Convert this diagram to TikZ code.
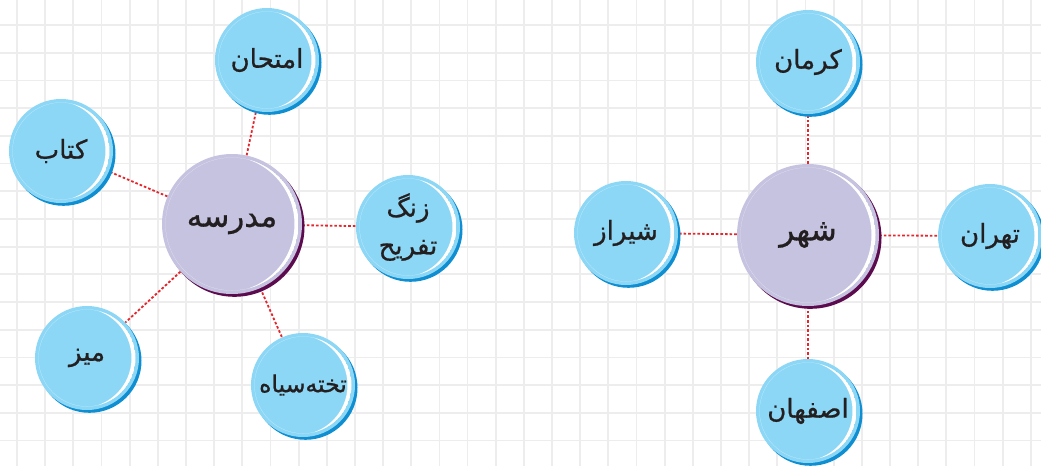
\documentclass[tikz,border=0pt]{standalone}
\usepackage{fontspec}
\newfontfamily\fa[Script=Arabic,FakeBold=0.8]{DejaVu Sans}
\TeXXeTstate=1
\definecolor{gridc}{HTML}{EDEDED}
\definecolor{bluefill}{HTML}{8DD7F6}
\definecolor{blueshade}{HTML}{0F8FD2}
\definecolor{lavfill}{HTML}{C6C3E1}
\definecolor{lavshade}{HTML}{5B0B4E}
\definecolor{dotred}{HTML}{E5262C}
\definecolor{txt}{HTML}{231F20}
\pgfdeclarelayer{bg}
\pgfsetlayers{bg,main}
\tikzset{
  gridline/.style={gridc, line width=1.8pt},
  link/.style={dotred, line width=1.8pt, dash pattern=on 2.6pt off 2pt},
  bubblenode/.style={circle, inner sep=0pt, text=txt, align=center},
}
% #1 name, #2 x, #3 y, #4 radius, #5 fill, #6 shade, #7 font size, #8 text
\newcommand{\bubble}[8]{%
  \fill[#6] (#2+2.5,#3+2.8) circle (#4);
  \fill[#5] (#2,#3) circle (#4);
  \begin{scope}
    \clip (#2,#3) circle ({#4-3.5});
    \fill[white,even odd rule] (#2,#3) circle ({#4-3.5}) (#2-5.5,#3) circle ({#4-2});
  \end{scope}
  \node[bubblenode, minimum size={2*#4pt}, font=\fa\fontsize{#7}{#7}\selectfont] (#1) at (#2,#3) {#8};
}
\begin{document}
\begin{tikzpicture}[x=1pt,y=-1pt]
\useasboundingbox (0,0) rectangle (1041,466);
\begin{pgfonlayer}{bg}
  \fill[white] (0,0) rectangle (1041,466);
  \foreach \i in {0,...,36} \draw[gridline] ({17+28.16*\i},0) -- ({17+28.16*\i},466);
  \foreach \j in {0,...,15} \draw[gridline] (0,{25+27.7*\j}) -- (1041,{25+27.7*\j});
\end{pgfonlayer}

% left group
\bubble{m}{232}{224}{70}{lavfill}{lavshade}{31}{\beginR مدرسه\endR}
\bubble{e}{267}{60}{52}{bluefill}{blueshade}{26}{\beginR امتحان\endR}
\bubble{k}{61}{151}{52}{bluefill}{blueshade}{26}{\beginR کتاب\endR}
\bubble{z}{408}{227}{52}{bluefill}{blueshade}{26}{\beginR زنگ\endR\\[12pt]\beginR تفریح\endR}
\bubble{mz}{87}{358}{52}{bluefill}{blueshade}{26}{\beginR میز\endR}
\bubble{t}{303}{385}{52}{bluefill}{blueshade}{23.5}{\beginR تخته‌سیاه\endR}

% right group
\bubble{sh}{808}{235}{71}{lavfill}{lavshade}{31}{\beginR شهر\endR}
\bubble{kr}{808}{62}{52}{bluefill}{blueshade}{26}{\beginR کرمان\endR}
\bubble{shz}{626}{233}{52}{bluefill}{blueshade}{26}{\beginR شیراز\endR}
\bubble{th}{990}{236}{52}{bluefill}{blueshade}{26}{\beginR تهران\endR}
\bubble{es}{808}{411}{52}{bluefill}{blueshade}{26}{\beginR اصفهان\endR}

\begin{pgfonlayer}{bg}
  \draw[link] (m) -- (e);
  \draw[link] (m) -- (k);
  \draw[link] (m) -- (z);
  \draw[link] (m) -- (mz);
  \draw[link] (m) -- (t);
  \draw[link] (sh) -- (kr);
  \draw[link] (sh) -- (shz);
  \draw[link] (sh) -- (th);
  \draw[link] (sh) -- (es);
\end{pgfonlayer}
\end{tikzpicture}
\end{document}
